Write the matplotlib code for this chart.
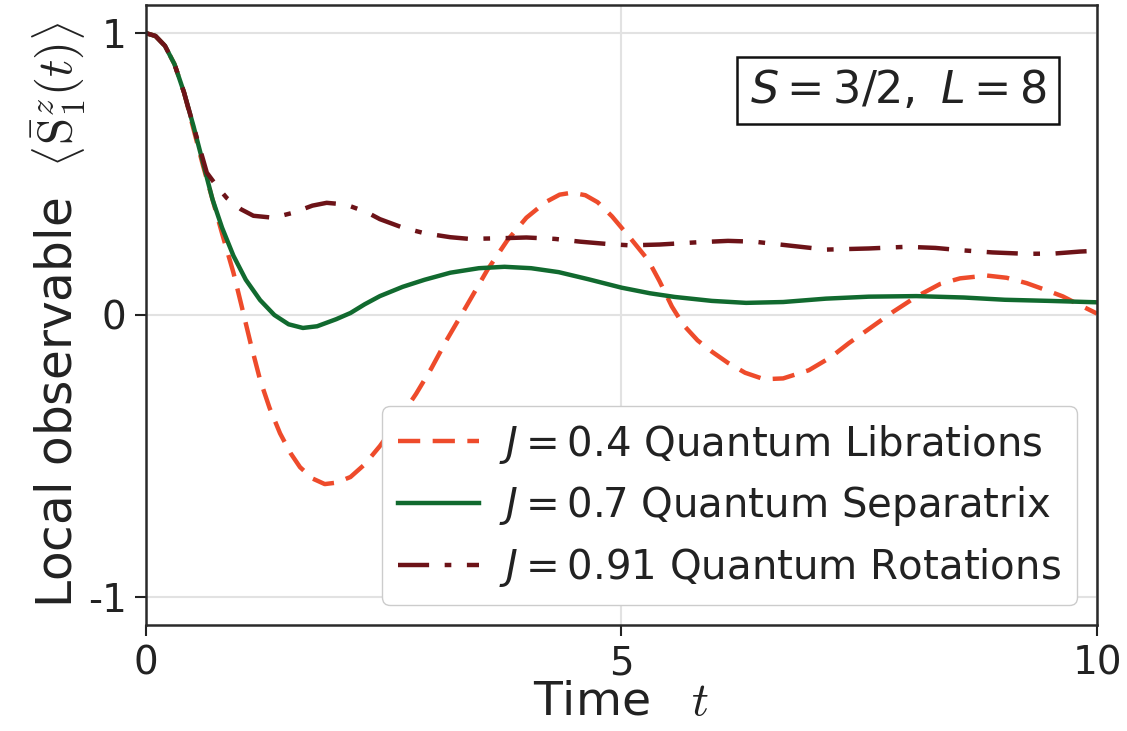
import numpy as np
import matplotlib
matplotlib.use("Agg")
import matplotlib.pyplot as plt

# time axis and <S_1^z(t)>
t_lib = [0, 0.1, 0.2, 0.3, 0.4, 0.5, 0.6, 0.7, 0.8, 0.92, 1.0, 1.1, 1.2, 1.3, 1.41,
         1.52, 1.62, 1.75, 1.88, 2.0, 2.15, 2.3, 2.46, 2.6, 2.74, 2.84, 3.0, 3.16,
         3.35, 3.59, 3.8, 4.0, 4.2, 4.35, 4.48, 4.62, 4.75, 4.9, 5.1, 5.28, 5.4,
         5.53, 5.65, 5.8, 5.95, 6.12, 6.3, 6.5, 6.7, 6.97, 7.2, 7.39, 7.6, 7.85,
         8.1, 8.35, 8.56, 8.84, 9.05, 9.26, 9.45, 9.64, 9.82, 10]
s_lib = [1, 0.99, 0.955, 0.89, 0.79, 0.66, 0.53, 0.41, 0.29, 0.15, 0.04, -0.1,
         -0.23, -0.33, -0.42, -0.49, -0.54, -0.58, -0.6, -0.595, -0.575, -0.53,
         -0.465, -0.4, -0.33, -0.28, -0.19, -0.09, 0.02, 0.16, 0.265, 0.345, 0.4,
         0.427, 0.434, 0.425, 0.4, 0.35, 0.27, 0.195, 0.12, 0.03, -0.035, -0.09,
         -0.13, -0.17, -0.205, -0.228, -0.225, -0.196, -0.15, -0.1, -0.05, 0.01,
         0.065, 0.11, 0.13, 0.14, 0.132, 0.113, 0.09, 0.066, 0.035, 0.005]

t_sep = [0, 0.1, 0.2, 0.3, 0.4, 0.5, 0.6, 0.7, 0.8, 0.92, 1.05, 1.2, 1.35, 1.5,
         1.65, 1.8, 2.0, 2.15, 2.3, 2.46, 2.7, 2.93, 3.2, 3.5, 3.77, 4.05, 4.34,
         4.65, 5.0, 5.3, 5.56, 5.95, 6.31, 6.7, 7.15, 7.6, 8.1, 8.6, 9.03, 9.5, 10]
s_sep = [1, 0.99, 0.955, 0.89, 0.79, 0.67, 0.54, 0.41, 0.31, 0.21, 0.125, 0.053,
         0.0, -0.033, -0.046, -0.04, -0.015, 0.007, 0.038, 0.067, 0.1, 0.125, 0.15,
         0.166, 0.171, 0.166, 0.152, 0.127, 0.097, 0.077, 0.064, 0.05, 0.043,
         0.046, 0.058, 0.065, 0.067, 0.062, 0.054, 0.05, 0.045]

t_rot = [0, 0.1, 0.2, 0.3, 0.4, 0.5, 0.64, 0.75, 0.85, 1.0, 1.13, 1.34, 1.55,
         1.75, 1.9, 2.1, 2.32, 2.46, 2.7, 2.93, 3.2, 3.4, 3.7, 4.0, 4.3, 4.57,
         4.85, 5.09, 5.4, 5.8, 6.12, 6.4, 6.8, 7.15, 7.6, 8.0, 8.3, 8.56, 8.9,
         9.26, 9.55, 9.82, 10]
s_rot = [1, 0.99, 0.955, 0.89, 0.79, 0.67, 0.505, 0.455, 0.415, 0.375, 0.352, 0.345,
         0.363, 0.388, 0.398, 0.392, 0.365, 0.34, 0.31, 0.29, 0.276, 0.27, 0.272,
         0.275, 0.27, 0.26, 0.252, 0.247, 0.25, 0.258, 0.263, 0.26, 0.245, 0.232,
         0.236, 0.242, 0.238, 0.23, 0.222, 0.217, 0.218, 0.225, 0.228]

labels = [r"$J=0.4$ Quantum Librations",
          r"$J=0.7$ Quantum Separatrix",
          r"$J=0.91$ Quantum Rotations"]

ink = "#222222"
plt.rcParams["text.color"] = ink
plt.rcParams["axes.labelcolor"] = ink
plt.rcParams["xtick.color"] = ink
plt.rcParams["ytick.color"] = ink

fig = plt.figure(figsize=(11.27, 7.31), dpi=100)
ax = fig.add_axes([0.1295, 0.145, 0.8439, 0.8482])

ax.plot(t_lib, s_lib, color="#ee4b2b", lw=3.2, dashes=(5, 2.8), label=labels[0])
ax.plot(t_sep, s_sep, color="#116a2f", lw=3.2, label=labels[1])
ax.plot(t_rot, s_rot, color="#6d1318", lw=3.2, dashes=(7, 3.5, 1.5, 3.5), label=labels[2])

ax.set_xlim(0, 10)
ax.set_ylim(-1.1, 1.1)
ax.set_xticks([0, 5, 10])
ax.set_yticks([-1, 0, 1])
ax.set_yticklabels(["-1", "0", "1"])
ax.tick_params(labelsize=28, direction="out", length=8, width=1.5, pad=6)
ax.grid(True, color="#e2e2e2", lw=1.5)
ax.set_axisbelow(True)
for sp in ax.spines.values():
    sp.set_color("#2a2a2a")
    sp.set_linewidth(1.8)

ax.set_xlabel(r"Time  $\;t$", fontsize=34, math_fontfamily="cm", labelpad=-2)
ax.set_ylabel(r"Local observable  $\left\langle\bar{\mathrm{S}}^z_1(t)\right\rangle$",
              fontsize=35, math_fontfamily="cm", labelpad=0)

ax.text(0.791, 0.862, r"$S=3/2,\ L=8$", transform=ax.transAxes, fontsize=32,
        ha="center", va="center",
        bbox=dict(boxstyle="square,pad=0.28", fc="white", ec="#111111", lw=1.8))

ax.legend(loc="lower right", fontsize=29, handlelength=2.0, handletextpad=0.5,
          framealpha=1, labelspacing=0.45, borderpad=0.4)

fig.savefig("out.png", dpi=100)
